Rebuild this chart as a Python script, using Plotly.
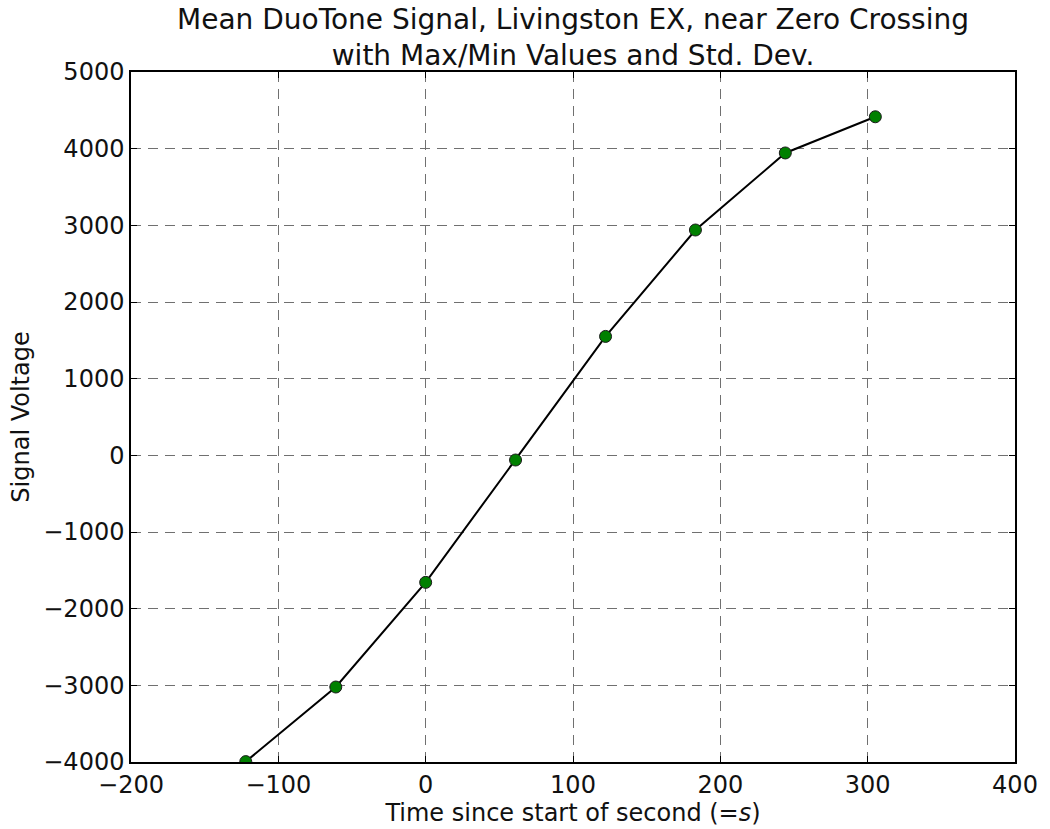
import plotly.graph_objects as go

time_us = [-122.1, -61.0, 0.0, 61.0, 122.1, 183.1, 244.1, 305.2]
signal = [-3995, -3022, -1657, -61, 1551, 2939, 3944, 4416]

x_ticks = [-200, -100, 0, 100, 200, 300, 400]
x_tick_text = ["\u2212200", "\u2212100", "0", "100", "200", "300", "400"]
y_ticks = [-4000, -3000, -2000, -1000, 0, 1000, 2000, 3000, 4000, 5000]
y_tick_text = [("\u2212" + str(abs(v))) if v < 0 else str(v) for v in y_ticks]

fig = go.Figure()
fig.add_trace(go.Scatter(
    x=time_us, y=signal, mode="lines+markers",
    line=dict(color="black", width=2),
    marker=dict(color="#008000", size=12, line=dict(color="#1a1a1a", width=1)),
    showlegend=False,
))

axis_common = dict(
    showline=True, linecolor="black", linewidth=1.5, mirror="allticks",
    ticks="inside", ticklen=6, tickcolor="black", tickwidth=1,
    showgrid=True, gridcolor="#707070", gridwidth=1, griddash="10px,7px",
    zeroline=False, tickfont=dict(size=24, color="#111111"),
)

fig.update_layout(
    width=1050, height=829,
    margin=dict(l=131, r=27, t=72, b=63),
    paper_bgcolor="white", plot_bgcolor="white",
    font=dict(family="DejaVu Sans", color="#111111"),
    title=dict(
        text="Mean DuoTone Signal, Livingston EX, near Zero Crossing<br>with Max/Min Values and Std. Dev.",
        x=0.5, xanchor="center", xref="paper",
        yref="container", y=1 - 29 / 829, yanchor="middle",
        font=dict(size=28, color="#111111"),
    ),
    xaxis=dict(range=[-200, 400], tickvals=x_ticks, ticktext=x_tick_text,
               title=dict(text="Time since start of second (=<i>s</i>)", font=dict(size=24), standoff=2),
               **axis_common),
    yaxis=dict(range=[-4000, 5000], tickvals=y_ticks, ticktext=y_tick_text,
               title=dict(text="Signal Voltage", font=dict(size=24), standoff=7),
               **axis_common),
)

fig.write_html(
    "out.html",
    config={"displayModeBar": False},
    post_script="document.body.style.margin='0px';document.body.style.overflow='hidden';document.documentElement.style.overflow='hidden';",
)
